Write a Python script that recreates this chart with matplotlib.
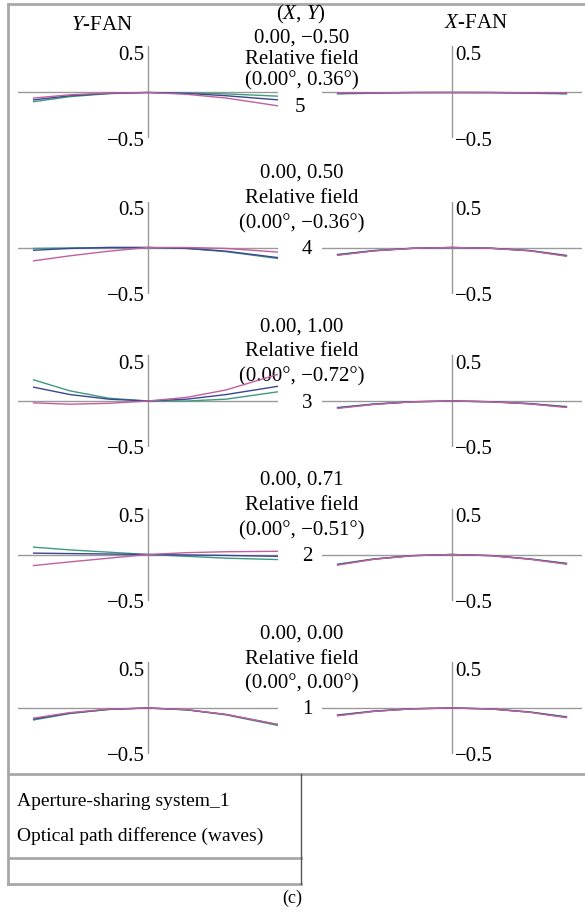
import matplotlib
matplotlib.use("Agg")
import matplotlib.pyplot as plt

plt.rcParams["font.family"] = ["Liberation Serif", "DejaVu Serif"]
plt.rcParams["mathtext.fontset"] = "custom"
plt.rcParams["mathtext.rm"] = "Liberation Serif"
plt.rcParams["mathtext.it"] = "Liberation Serif:italic"

W, H = 585, 913

# field numbers, top to bottom
fields = ["5", "4", "3", "2", "1"]
field_xy = ["0.00, \u22120.50", "0.00, 0.50", "0.00, 1.00", "0.00, 0.71", "0.00, 0.00"]
field_deg = ["(0.00\u00b0, 0.36\u00b0)", "(0.00\u00b0, \u22120.36\u00b0)",
             "(0.00\u00b0, \u22120.72\u00b0)", "(0.00\u00b0, \u22120.51\u00b0)",
             "(0.00\u00b0, 0.00\u00b0)"]

# normalised pupil coordinates (left side vignetted)
pupil_y = [-0.88, -0.6, -0.3, 0.0, 0.3, 0.6, 1.0]
pupil_x = [-0.88, -0.6, -0.3, 0.0, 0.3, 0.6, 0.88]

# Y-FAN optical path difference (waves), one row per field 5..1
yfan_blue = [
    [-0.08, -0.035, -0.01, 0, -0.01, -0.035, -0.08],
    [-0.03, -0.01, 0.0, 0, -0.01, -0.04, -0.11],
    [0.15, 0.07, 0.02, 0, 0.02, 0.07, 0.16],
    [0.015, 0.01, 0.005, 0, -0.005, -0.01, -0.02],
    [-0.12, -0.055, -0.015, 0, -0.02, -0.07, -0.18],
]
yfan_green = [
    [-0.10, -0.045, -0.012, 0, -0.005, -0.015, -0.04],
    [-0.01, -0.005, 0.0, 0, -0.01, -0.045, -0.12],
    [0.23, 0.11, 0.03, 0, 0.0, 0.02, 0.10],
    [0.08, 0.05, 0.025, 0, -0.02, -0.04, -0.055],
    [-0.13, -0.06, -0.015, 0, -0.02, -0.075, -0.19],
]
yfan_magenta = [
    [-0.06, -0.025, -0.005, 0, -0.02, -0.06, -0.145],
    [-0.145, -0.09, -0.04, 0, 0.0, -0.01, -0.05],
    [-0.02, -0.035, -0.025, 0, 0.04, 0.12, 0.29],
    [-0.12, -0.08, -0.04, 0, 0.02, 0.03, 0.035],
    [-0.11, -0.05, -0.012, 0, -0.018, -0.07, -0.18],
]

# X-FAN optical path difference (waves)
xfan_blue = [
    [-0.01, -0.005, 0.0, 0, 0.0, -0.005, -0.01],
    [-0.08, -0.035, -0.008, 0, -0.008, -0.035, -0.09],
    [-0.075, -0.035, -0.008, 0, -0.008, -0.03, -0.065],
    [-0.11, -0.05, -0.012, 0, -0.012, -0.05, -0.10],
    [-0.08, -0.035, -0.008, 0, -0.01, -0.045, -0.10],
]
xfan_green = [
    [-0.015, -0.008, -0.002, 0, -0.002, -0.008, -0.015],
    [-0.075, -0.033, -0.008, 0, -0.008, -0.033, -0.085],
    [-0.07, -0.032, -0.008, 0, -0.008, -0.028, -0.06],
    [-0.105, -0.048, -0.012, 0, -0.012, -0.048, -0.095],
    [-0.075, -0.033, -0.008, 0, -0.01, -0.043, -0.095],
]
xfan_magenta = [
    [-0.005, -0.003, 0.0, 0, 0.0, -0.003, -0.005],
    [-0.085, -0.037, -0.009, 0, -0.009, -0.037, -0.095],
    [-0.08, -0.037, -0.009, 0, -0.009, -0.032, -0.07],
    [-0.115, -0.052, -0.013, 0, -0.013, -0.052, -0.105],
    [-0.085, -0.037, -0.009, 0, -0.011, -0.047, -0.105],
]

row_axis_y = [92.5, 247.5, 401, 554.5, 708]   # pixel rows of the zero line
colors = {"blue": "#3b4690", "green": "#3f9a80", "magenta": "#c0609e"}
axis_gray = "#9a9a9a"
fs = 15

fig = plt.figure(figsize=(W / 100, H / 100), dpi=100)
bg = fig.add_axes([0, 0, 1, 1])
bg.set_xlim(0, W)
bg.set_ylim(H, 0)
bg.axis("off")

# frame and table
frame_kw = dict(color="#a8a8a8", lw=2)
bg.plot([8, W], [4.5, 4.5], **frame_kw)
bg.plot([8, 8], [4.5, 884], **frame_kw)
bg.plot([8, W], [774, 774], **frame_kw)
bg.plot([8, 301], [858, 858], **frame_kw)
bg.plot([8, 301], [884, 884], **frame_kw)
bg.plot([301, 301], [774, 884], color="#555555", lw=1)

bg.text(102, 25, "$Y$-FAN", ha="center", va="center", fontsize=fs)
bg.text(476, 23, "$X$-FAN", ha="center", va="center", fontsize=fs)
bg.text(301, 14, "($X$, $Y$)", ha="center", va="center", fontsize=fs)

bg.text(17, 801, "Aperture-sharing system_1", ha="left", va="center", fontsize=14)
bg.text(17, 836, "Optical path difference (waves)", ha="left", va="center", fontsize=14)
bg.text(292, 898, "(c)", ha="center", va="center", fontsize=13)


def make_panel(left_px, axis_y):
    ax = fig.add_axes([left_px / W, (H - axis_y - 46) / H, 260 / W, 92 / H])
    ax.set_xlim(-1, 1)
    ax.set_ylim(-0.5, 0.5)
    ax.axis("off")
    ax.patch.set_alpha(0)
    ax.axhline(0, color=axis_gray, lw=1)
    ax.axvline(0, color=axis_gray, lw=1)
    return ax


for i, fld in enumerate(fields):
    ay = row_axis_y[i]

    axy = make_panel(18, ay)
    axy.plot(pupil_y, yfan_green[i], color=colors["green"], lw=1)
    axy.plot(pupil_y, yfan_blue[i], color=colors["blue"], lw=1)
    axy.plot(pupil_y, yfan_magenta[i], color=colors["magenta"], lw=1)
    axy.text(-0.025, 0.4, "0.5", ha="right", va="center", fontsize=fs)
    axy.text(-0.025, -0.53, "\u22120.5", ha="right", va="center", fontsize=fs)

    axx = make_panel(322, ay)
    axx.plot(pupil_x, xfan_green[i], color=colors["green"], lw=1)
    axx.plot(pupil_x, xfan_blue[i], color=colors["blue"], lw=1)
    axx.plot(pupil_x, xfan_magenta[i], color=colors["magenta"], lw=1)
    axx.text(0.025, 0.4, "0.5", ha="left", va="center", fontsize=fs)
    axx.text(0.025, -0.53, "\u22120.5", ha="left", va="center", fontsize=fs)

    if i == 0:
        lines_y = [38, 59, 81]
        bg.text(300, 108, fld, ha="center", va="center", fontsize=fs)
    else:
        lines_y = [ay - 74, ay - 49, ay - 24]
        bg.text(307, ay + 2, fld, ha="center", va="center", fontsize=fs)
    bg.text(302, lines_y[0], field_xy[i], ha="center", va="center", fontsize=fs)
    bg.text(302, lines_y[1], "Relative field", ha="center", va="center", fontsize=fs)
    bg.text(302, lines_y[2], field_deg[i], ha="center", va="center", fontsize=fs)

fig.savefig("out.png", dpi=100)
